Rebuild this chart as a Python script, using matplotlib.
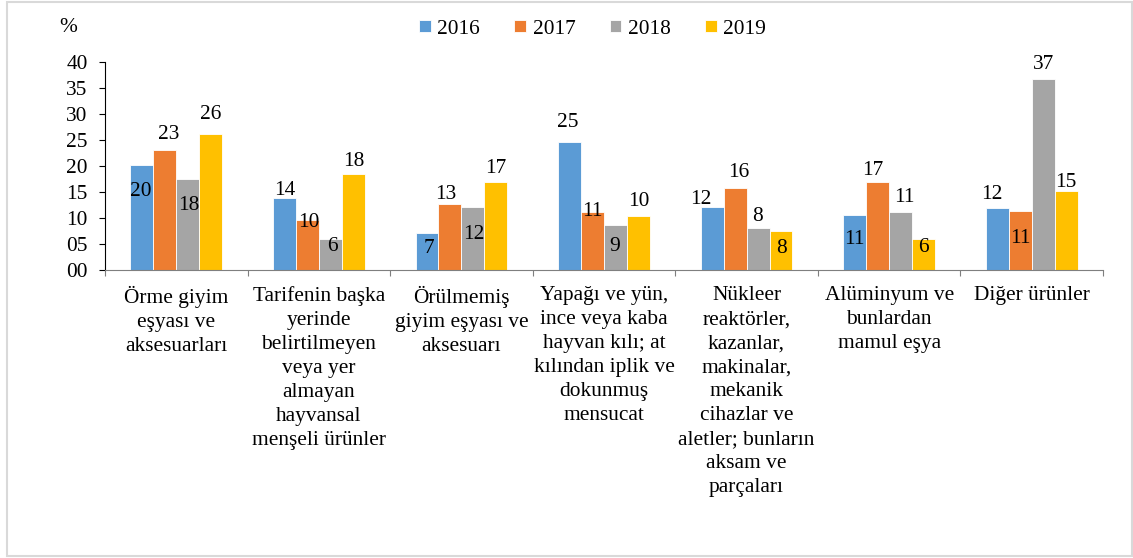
import numpy as np
import matplotlib.pyplot as plt
from matplotlib.patches import Rectangle

plt.rcParams['font.family'] = ['Liberation Serif', 'DejaVu Serif']

categories = [
    "Örme giyim\neşyası ve\naksesuarları",
    "Tarifenin başka\nyerinde\nbelirtilmeyen\nveya yer\nalmayan\nhayvansal\nmenşeli ürünler",
    "Örülmemiş\ngiyim eşyası ve\naksesuarı",
    "Yapağı ve yün,\nince veya kaba\nhayvan kılı; at\nkılından iplik ve\ndokunmuş\nmensucat",
    "Nükleer\nreaktörler,\nkazanlar,\nmakinalar,\nmekanik\ncihazlar ve\naletler; bunların\naksam ve\nparçaları",
    "Alüminyum ve\nbunlardan\nmamul eşya",
    "Diğer ürünler",
]
years = ["2016", "2017", "2018", "2019"]
v2016 = [20.2, 13.8, 7.1, 24.6, 12.1, 10.6, 11.9]
v2017 = [23.1, 9.6, 12.7, 11.2, 15.8, 16.9, 11.3]
v2018 = [17.5, 6.0, 12.1, 8.7, 8.1, 11.2, 36.7]
v2019 = [26.2, 18.5, 16.9, 10.4, 7.5, 6.0, 15.2]
labels2016 = ["20", "14", "7", "25", "12", "11", "12"]
labels2017 = ["23", "10", "13", "11", "16", "17", "11"]
labels2018 = ["18", "6", "12", "9", "8", "11", "37"]
labels2019 = ["26", "18", "17", "10", "8", "6", "15"]

series = [v2016, v2017, v2018, v2019]
series_labels = [labels2016, labels2017, labels2018, labels2019]
colors = ["#5B9BD5", "#ED7D31", "#A5A5A5", "#FFC000"]

# label offsets in pixels (dx, dy) relative to bar top, as placed in the original
offsets = [
    [(-1, -27), (0, 8), (2, -15), (-2, 20), (-11, 8), (0, -25), (-5, 14)],
    [(4, 15), (1, -2), (-4, 9), (0, 0), (4, 15), (-5, 12), (0, -27)],
    [(1, -26), (2, -8), (1, -27), (-1, -22), (-1, 11), (4, 14), (0, 15)],
    [(0, 19), (0, 12), (0, 14), (0, 14), (1, -17), (0, -9), (0, 8)],
]

FS = 15.4

fig = plt.figure(figsize=(11.33, 5.58), dpi=100)
fig.patches.append(Rectangle((0.0062, 0.0036), 0.9925, 0.9937, transform=fig.transFigure,
                             fill=False, edgecolor="#d9d9d9", linewidth=1.5))
ax = fig.add_axes([0.0927, 0.516, 0.8808, 0.373])

x = np.arange(len(categories))
w = 0.161
for i, vals in enumerate(series):
    pos = x + (i - 1.5) * w
    ax.bar(pos, vals, width=w, color=colors[i], edgecolor="white", linewidth=0.6,
           label=years[i], zorder=2)
    for j, v in enumerate(vals):
        dx, dy = offsets[i][j]
        ax.annotate(series_labels[i][j], (pos[j], v), xytext=(dx, dy),
                    textcoords="offset pixels", ha="center", va="center",
                    fontsize=FS, color="black", zorder=3)

ax.set_xlim(-0.5, len(categories) - 0.5)
ax.set_ylim(0, 40)
ax.set_yticks(range(0, 41, 5))
ax.set_yticklabels([f"{t:02d}" for t in range(0, 41, 5)], fontsize=FS)
ax.set_xticks(np.arange(-0.5, len(categories), 1.0))
ax.set_xticklabels([])
ax.tick_params(axis="x", length=4.5, color="#7f7f7f", direction="out")
ax.tick_params(axis="y", length=4.5, color="black", pad=8)
for s in ["top", "right"]:
    ax.spines[s].set_visible(False)
ax.spines["bottom"].set_color("#7f7f7f")
ax.spines["left"].set_color("black")

for j, c in enumerate(categories):
    ax.annotate(c, (x[j], 0), xytext=(0, -16), textcoords="offset pixels",
                ha="center", va="top", fontsize=FS, linespacing=1.36)

fig.text(0.06, 0.95, "%", fontsize=FS, ha="center", va="center")

ax.legend(loc="center", bbox_to_anchor=(0.523, 0.948), bbox_transform=fig.transFigure,
          ncol=4, frameon=False, fontsize=FS, handlelength=0.55, handleheight=0.55,
          handletextpad=0.3, columnspacing=1.6)

fig.savefig("out.png", dpi=100)
